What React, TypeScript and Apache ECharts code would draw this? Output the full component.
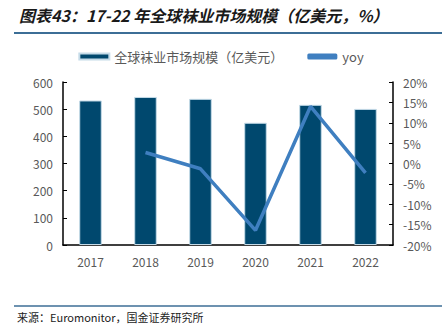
import React, { useEffect, useRef } from "react";
import * as echarts from "echarts";

const categories = ["2017", "2018", "2019", "2020", "2021", "2022"];
const marketSize = [532, 545, 538, 450, 516, 501];
const yoy = [null, 2.7, -1.3, -16.4, 14.0, -2.3];
const barName = "全球袜业市场规模（亿美元）";
const lineName = "yoy";
const titleText = "图表43：17-22 年全球袜业市场规模（亿美元，%）";
const sourceText = "来源：Euromonitor，国金证券研究所";

export default function App() {
  const ref = useRef<HTMLDivElement>(null);
  useEffect(() => {
    document.body.style.margin = "0";
    const chart = echarts.init(ref.current!, null, { renderer: "svg" });
    const font = "Noto Sans CJK SC";
    chart.setOption({
      animation: false,
      backgroundColor: "#ffffff",
      textStyle: { fontFamily: font },
      graphic: [
        {
          type: "text",
          left: 19,
          top: 7,
          style: {
            text: titleText,
            fontSize: 16,
            fontWeight: "bold",
            fontStyle: "italic",
            fill: "#1a1a1a",
            fontFamily: font,
          },
        },
        {
          type: "line",
          shape: { x1: 14, y1: 33, x2: 442, y2: 33 },
          style: { stroke: "#3c6e96", lineWidth: 2 },
        },
        {
          type: "line",
          shape: { x1: 14, y1: 306, x2: 442, y2: 306 },
          style: { stroke: "#3c6e96", lineWidth: 1.5 },
        },
        {
          type: "text",
          left: 17,
          top: 311,
          style: {
            text: sourceText,
            fontSize: 11,
            fill: "#222",
            fontFamily: font,
          },
        },
      ],
      legend: {
        top: 45,
        left: "center",
        itemGap: 24,
        itemWidth: 30,
        itemHeight: 6,
        textStyle: { fontSize: 13, color: "#595959", fontFamily: font },
        data: [
          { name: barName, icon: "rect" },
          { name: lineName, icon: "roundRect" },
        ],
      },
      grid: { left: 63, right: 49, top: 82, bottom: 79 },
      xAxis: {
        type: "category",
        data: categories,
        axisLine: { lineStyle: { color: "#000", width: 1.5 } },
        axisTick: { inside: true, length: 4, lineStyle: { color: "#000" } },
        axisLabel: { color: "#595959", fontSize: 12, margin: 10 },
      },
      yAxis: [
        {
          type: "value",
          min: 0,
          max: 600,
          interval: 100,
          splitLine: { show: false },
          axisLine: { show: true, lineStyle: { color: "#000", width: 1.5 } },
          axisTick: { show: true, inside: true, length: 4, lineStyle: { color: "#000" } },
          axisLabel: { color: "#595959", fontSize: 12, margin: 10 },
        },
        {
          type: "value",
          min: -20,
          max: 20,
          interval: 5,
          splitLine: { show: false },
          axisLine: { show: true, lineStyle: { color: "#000", width: 1.5 } },
          axisTick: { show: true, inside: true, length: 4, lineStyle: { color: "#000" } },
          axisLabel: { color: "#595959", fontSize: 12, margin: 10, formatter: "{value}%" },
        },
      ],
      series: [
        {
          name: barName,
          type: "bar",
          data: marketSize,
          barWidth: "41%",
          itemStyle: { color: "#00486e", borderColor: "#c5dbe8", borderWidth: 1 },
        },
        {
          name: lineName,
          type: "line",
          yAxisIndex: 1,
          data: yoy,
          symbol: "none",
          connectNulls: false,
          lineStyle: { color: "#3f7fc0", width: 3.5 },
          itemStyle: { color: "#3f7fc0" },
        },
      ],
    });
    return () => chart.dispose();
  }, []);
  return <div ref={ref} style={{ width: 442, height: 324 }} />;
}
